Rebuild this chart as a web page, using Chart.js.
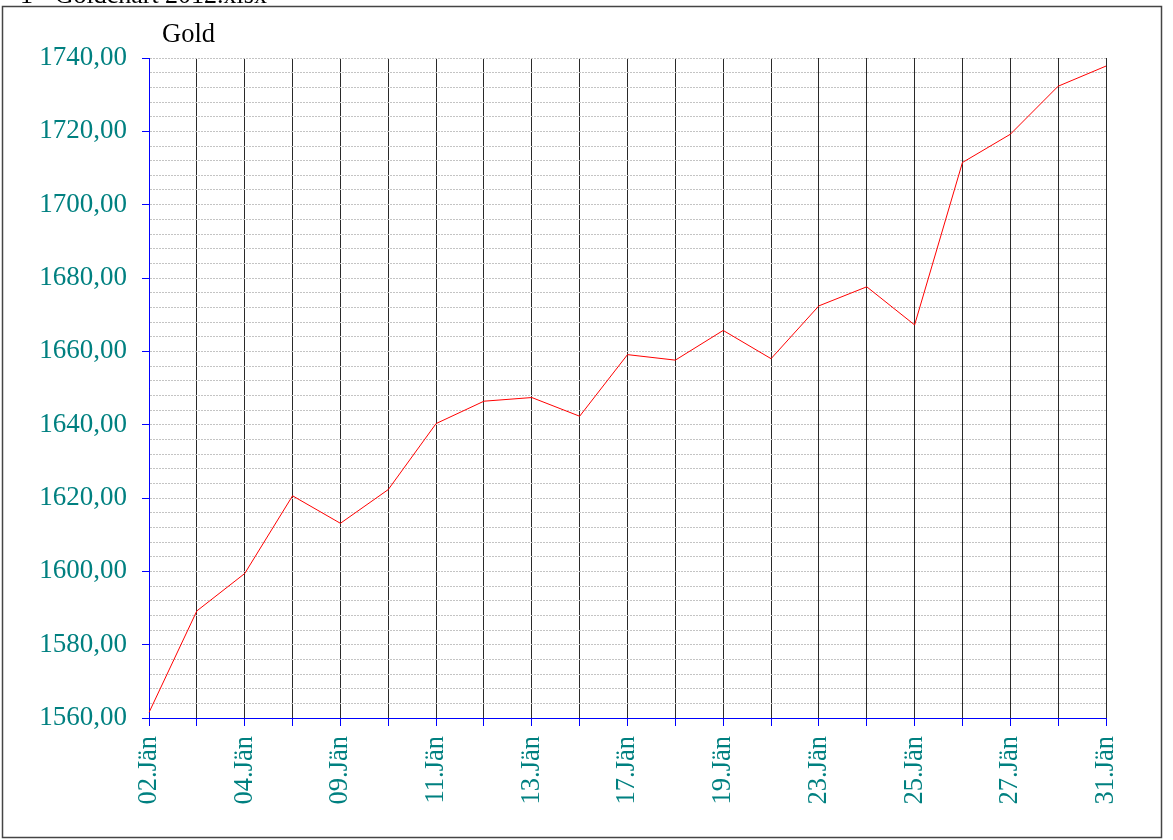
<!DOCTYPE html>
<html>
<head>
<meta charset="utf-8">
<script src="https://cdn.jsdelivr.net/npm/chart.js@4/dist/chart.umd.min.js"></script>
<style>
html,body{margin:0;padding:0;background:#fff;}
#wrap{position:relative;width:1173px;height:840px;}
</style>
</head>
<body>
<div id="wrap"><canvas id="c" width="1173" height="840"></canvas></div>
<script>
const fileTitle = "1 - Goldchart 2012.xlsx";
const seriesName = "Gold";
const categories = ["02.Jän","03.Jän","04.Jän","05.Jän","09.Jän","10.Jän","11.Jän","12.Jän","13.Jän","16.Jän","17.Jän","18.Jän","19.Jän","20.Jän","23.Jän","24.Jän","25.Jän","26.Jän","27.Jän","30.Jän","31.Jän"];
const goldValues = [1561.5,1589.2,1599.4,1620.6,1613.1,1622.3,1640.3,1646.4,1647.4,1642.3,1659.1,1657.6,1665.7,1658.0,1672.4,1677.6,1667.2,1711.5,1719.2,1732.3,1737.8];
const yMin = 1560, yMax = 1740, yMinorStep = 4, yMajorStep = 20;

const teal = '#008080';
const blue = '#0000ff';
const serif = "'Liberation Serif','Times New Roman',serif";

const decor = {
  id: 'decor',
  afterDraw(chart) {
    const ctx = chart.ctx;
    ctx.save();
    ctx.strokeStyle = '#444';
    ctx.lineWidth = 1.5;
    ctx.strokeRect(2.5, 6.5, 1159, 831);
    ctx.fillStyle = '#000';
    ctx.font = "26px " + serif;
    ctx.textBaseline = 'alphabetic';
    ctx.textAlign = 'left';
    ctx.fillText(fileTitle, 20, 3);
    ctx.font = "26.5px " + serif;
    ctx.fillText(seriesName, 162, 42);
    ctx.restore();
  }
};

new Chart(document.getElementById('c'), {
  type: 'line',
  data: {
    labels: categories,
    datasets: [{
      label: seriesName,
      data: goldValues,
      borderColor: '#ff0000',
      borderWidth: 1,
      pointRadius: 0,
      tension: 0,
      fill: false
    }]
  },
  options: {
    responsive: false,
    animation: false,
    layout: { padding: { top: 58, left: 0, right: 67, bottom: 0 } },
    plugins: { legend: { display: false }, title: { display: false }, tooltip: { enabled: false } },
    scales: {
      x: {
        offset: false,
        afterFit: s => { s.height = 122; },
        border: { display: true, color: blue, width: 1 },
        grid: {
          color: '#2a2a2a',
          lineWidth: 1,
          drawTicks: true,
          tickLength: 8,
          tickColor: blue
        },
        ticks: {
          autoSkip: false,
          maxRotation: 90,
          minRotation: 90,
          padding: 10,
          color: teal,
          font: { family: serif, size: 26.5 },
          callback: function(v, i) { return i % 2 === 0 ? categories[i] : ''; }
        }
      },
      y: {
        min: yMin,
        max: yMax,
        afterFit: s => { s.width = 149; },
        border: { display: true, color: blue, width: 1, dash: [2, 1] },
        grid: {
          color: '#c4c4c4',
          lineWidth: 1,
          drawTicks: true,
          tickLength: 7,
          tickBorderDash: [],
          tickColor: ctx => (ctx.tick && Math.round(ctx.tick.value) % yMajorStep === 0) ? blue : 'rgba(0,0,0,0)'
        },
        ticks: {
          autoSkip: false,
          stepSize: yMinorStep,
          padding: 15,
          color: teal,
          font: { family: serif, size: 27 },
          callback: v => (Math.round(v) % yMajorStep === 0) ? v.toFixed(2).replace('.', ',') : ''
        }
      }
    }
  },
  plugins: [decor]
});
</script>
</body>
</html>
